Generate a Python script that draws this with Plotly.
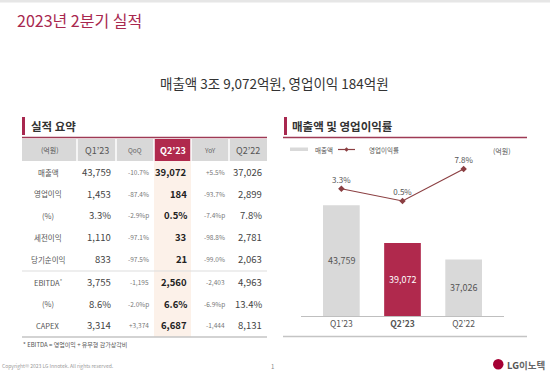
import plotly.graph_objects as go

W, H = 550, 372

# ---------------- data ----------------
categories = ["Q1’23", "Q2’23", "Q2’22"]
sales = [43759, 39072, 37026]          # 매출액 (억원)
op_margin = [3.3, 0.5, 7.8]            # 영업이익률 (%)

table_header = ["(억원)", "Q1’23", "QoQ", "Q2’23", "YoY", "Q2’22"]
row_labels = ["매출액", "영업이익", "(%)", "세전이익", "당기순이익", "EBITDA<sup>*</sup>", "(%)", "CAPEX"]
col_q1_23 = ["43,759", "1,453", "3.3%", "1,110", "833", "3,755", "8.6%", "3,314"]
col_qoq = ["-10.7%", "-87.4%", "-2.9%p", "-97.1%", "-97.5%", "-1,195", "-2.0%p", "+3,374"]
col_q2_23 = ["39,072", "184", "0.5%", "33", "21", "2,560", "6.6%", "6,687"]
col_yoy = ["+5.5%", "-93.7%", "-7.4%p", "-98.8%", "-99.0%", "-2,403", "-6.9%p", "-1,444"]
col_q2_22 = ["37,026", "2,899", "7.8%", "2,781", "2,063", "4,963", "13.4%", "8,131"]

# ---------------- style ----------------
FONT = "Noto Sans CJK KR"
CRIMSON = "#b0294d"
TITLE_RED = "#a8284f"
GRAY_BAR = "#d9d9d9"
LINE_RED = "#8b3f42"


def X(px):
    return px / W


def Y(py):
    return 1 - py / H


annotations = []
shapes = []


def txt(text, x, y, size, color="#444", xanchor="center", bold=False):
    if bold:
        text = f"<b>{text}</b>"
    annotations.append(dict(text=text, x=X(x), y=Y(y), xref="paper", yref="paper",
                            xanchor=xanchor, yanchor="middle", showarrow=False,
                            font=dict(family=FONT, size=size, color=color)))


def rect(x0, y0, x1, y1, color, line_width=0):
    shapes.append(dict(type="rect", xref="paper", yref="paper",
                       x0=X(x0), x1=X(x1), y0=Y(y1), y1=Y(y0),
                       fillcolor=color, line=dict(width=line_width), layer="below"))


def hline(x0, x1, y, color, width=1):
    shapes.append(dict(type="line", xref="paper", yref="paper",
                       x0=X(x0), x1=X(x1), y0=Y(y), y1=Y(y),
                       line=dict(color=color, width=width)))


# top band
rect(0, 0, 550, 2.5, "#e6e6e6")

# titles
txt("2023년 2분기 실적", 15, 20, 16, TITLE_RED, xanchor="left")
txt("매출액 3조 9,072억원, 영업이익 184억원", 274, 83, 13.5, "#333")

# section headers
rect(22, 117, 25, 135, TITLE_RED)
txt("실적 요약", 29, 126, 11.5, "#333", xanchor="left", bold=True)
hline(22, 267, 137.5, "#9e3a55", 1.5)

rect(284, 117, 287, 135, TITLE_RED)
txt("매출액 및 영업이익률", 290, 126, 11.5, "#333", xanchor="left", bold=True)
hline(283, 527, 137.5, "#9e3a55", 1.5)

# ---------------- table ----------------
bounds = [22, 77, 116, 154, 191, 229, 267]
hdr_top, hdr_bot = 139, 161
rect(154, hdr_bot, 191, 337, "#fcf1e9")
for i in range(6):
    x0 = bounds[i] + (0 if i == 0 else 0.75)
    x1 = bounds[i + 1] - (0 if i == 5 else 0.75)
    rect(x0, hdr_top, x1, hdr_bot, CRIMSON if i == 3 else "#d8d8d8")

hdr_centers = [(bounds[i] + bounds[i + 1]) / 2 for i in range(6)]
hdr_sizes = [7, 9, 6.5, 9, 6.5, 9]
hdr_colors = ["#555", "#555", "#666", "#ffffff", "#666", "#555"]
for i, h in enumerate(table_header):
    txt(h, hdr_centers[i], 150, hdr_sizes[i], hdr_colors[i], bold=(i == 3))

row_y = [172, 193.5, 215, 237, 259, 282, 303.5, 325]
cols = [
    (col_q1_23, 113, 9.5, "#444", False),
    (col_qoq, 151, 6.5, "#777", False),
    (col_q2_23, 189, 9.5, "#222", True),
    (col_yoy, 227, 6.5, "#777", False),
    (col_q2_22, 264, 9.5, "#444", False),
]
for r, yv in enumerate(row_y):
    txt(row_labels[r], 48, yv, 7.5, "#555")
    for values, xr, size, color, bold in cols:
        txt(values[r], xr, yv, size, color, xanchor="right", bold=bold)

hline(22, 267, 271, "#dddddd", 1)
hline(22, 267, 337, "#c4c4c4", 1.5)
txt("* EBITDA = 영업이익 + 유무형 감가상각비", 21, 344.5, 6, "#555", xanchor="left")

# ---------------- chart legend ----------------
rect(290, 147.5, 308, 151, GRAY_BAR)
txt("매출액", 313, 149.5, 6.5, "#555", xanchor="left")
hline(338, 355, 149.5, LINE_RED, 1.2)
shapes.append(dict(type="path", xref="paper", yref="paper",
                   path=f"M {X(346.5)} {Y(147.3)} L {X(348.7)} {Y(149.5)} L {X(346.5)} {Y(151.7)} L {X(344.3)} {Y(149.5)} Z",
                   fillcolor=LINE_RED, line=dict(width=0)))
txt("영업이익률", 367, 149.5, 6.5, "#555", xanchor="left")
txt("(억원)", 502, 151, 7, "#555")

hline(283, 527, 336.5, "#c4c4c4", 1.5)

# footer
txt("Copyright© 2023 LG Innotek. All rights reserved.", 0, 366, 5, "#9a9a9a", xanchor="left")
txt("1", 272, 366, 6, "#888")
shapes.append(dict(type="circle", xref="paper", yref="paper",
                   x0=X(493), x1=X(503.5), y0=Y(369.5), y1=Y(359),
                   fillcolor="#a50034", line=dict(width=0)))
annotations.append(dict(text="<b><span style='color:#555'>LG</span>이노텍</b>", x=X(505), y=Y(364.5),
                        xref="paper", yref="paper", xanchor="left", yanchor="middle", showarrow=False,
                        font=dict(family=FONT, size=9.5, color="#666")))

# ---------------- chart traces ----------------
fig = go.Figure()
bar_colors = [CRIMSON if c == "Q2’23" else GRAY_BAR for c in categories]
label_colors = ["#ffffff" if c == "Q2’23" else "#555" for c in categories]
fig.add_trace(go.Bar(x=categories, y=sales, marker=dict(color=bar_colors, line=dict(width=0)),
                     width=0.6, xaxis="x", yaxis="y", showlegend=False, hoverinfo="skip"))
fig.add_trace(go.Scatter(x=categories, y=op_margin, xaxis="x", yaxis="y2", mode="lines+markers+text",
                         text=[f"{m}%" for m in op_margin], textposition="top center",
                         textfont=dict(family=FONT, size=8, color="#555"),
                         line=dict(color=LINE_RED, width=1.2),
                         marker=dict(symbol="diamond", size=5, color=LINE_RED),
                         showlegend=False, hoverinfo="skip", cliponaxis=False))

Y_MIN, Y_MAX = 30000, 50000
for c, v, col in zip(categories, sales, label_colors):
    annotations.append(dict(text=f"{v:,}", x=c, y=(Y_MIN + v) / 2, xref="x", yref="y",
                            showarrow=False, font=dict(family=FONT, size=9, color=col)))

fig.update_layout(
    width=W, height=H, margin=dict(l=0, r=0, t=0, b=0),
    paper_bgcolor="white", plot_bgcolor="rgba(0,0,0,0)",
    font=dict(family=FONT),
    xaxis=dict(domain=[X(301), X(504)], type="category", range=[-0.66, 2.66],
               showline=True, linecolor="#bfbfbf", linewidth=1, showgrid=False, zeroline=False,
               ticks="", tickfont=dict(family=FONT, size=8.5, color="#555"),
               tickvals=categories, ticktext=["Q1’23", "<b>Q2’23</b>", "Q2’22"], fixedrange=True),
    yaxis=dict(domain=[Y(316), Y(155)], range=[Y_MIN, Y_MAX], visible=False, showgrid=False, zeroline=False),
    yaxis2=dict(domain=[Y(316), Y(155)], overlaying="y", range=[-25.76, 11.0], visible=False,
                showgrid=False, zeroline=False),
    annotations=annotations, shapes=shapes, bargap=0.4,
)

fig.write_html("out.html", config={"displayModeBar": False},
               post_script="document.body.style.margin='0';document.body.style.overflow='hidden';")
